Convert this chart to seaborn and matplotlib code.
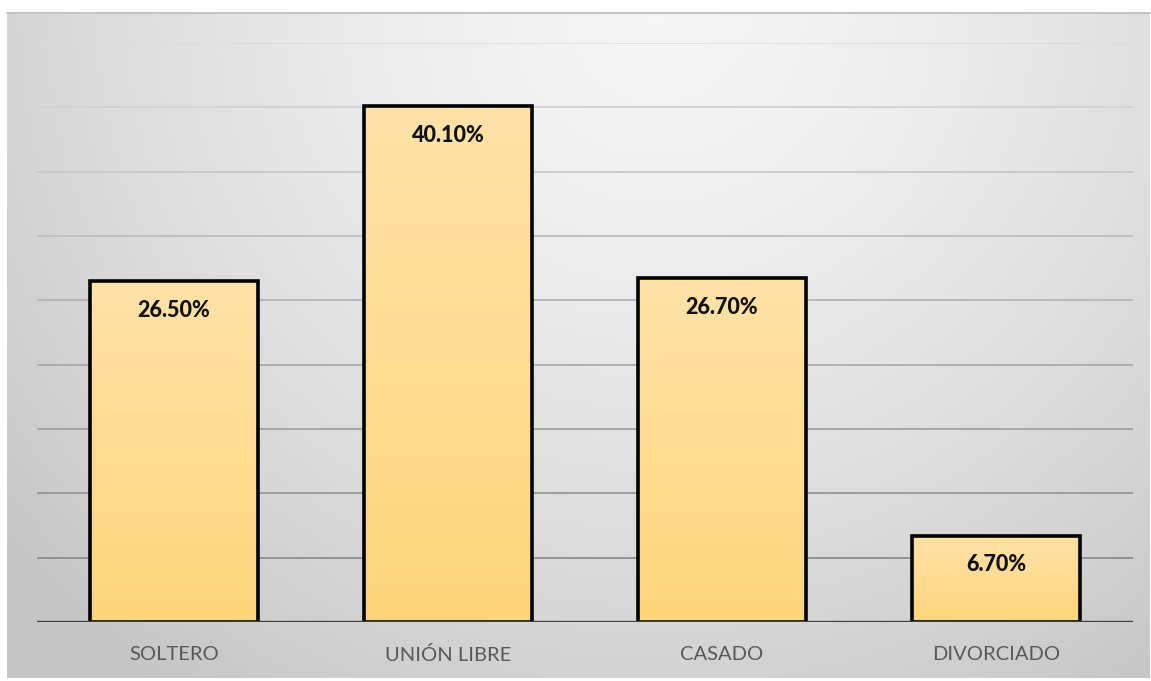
import numpy as np
import pandas as pd
import matplotlib
matplotlib.use("Agg")
import matplotlib.pyplot as plt
import seaborn as sns

categorias = ["SOLTERO", "UNIÓN LIBRE", "CASADO", "DIVORCIADO"]
porcentajes = [26.5, 40.1, 26.7, 6.7]
etiquetas = ["26.50%", "40.10%", "26.70%", "6.70%"]

df = pd.DataFrame({"estado": categorias, "pct": porcentajes})

sns.set_theme(style="white")
plt.rcParams["font.family"] = ["Lato", "DejaVu Sans"]

W, H = 1151, 681
fig = plt.figure(figsize=(W / 100, H / 100), dpi=100)
fig.patch.set_facecolor("white")

# fondo con degradado radial (panel gris)
bg = fig.add_axes([7 / W, (H - 678) / H, (1150 - 7) / W, (678 - 13) / H])
yy, xx = np.mgrid[0:1:300j, 0:1:600j]
d = np.sqrt(((xx - 0.57) / 0.75) ** 2 + ((yy - 0.0) / 1.25) ** 2)
d = np.clip(d, 0, 1)
val = 0.965 - 0.19 * d ** 1.4
bg.imshow(np.dstack([val, val, val]), aspect="auto", extent=[0, 1, 1, 0])
bg.set_axis_off()
# borde superior del panel
fig.add_artist(plt.Line2D([7 / W, 1150 / W], [(H - 13) / H] * 2, color="#c4c4c4", lw=1.5))

ax = fig.add_axes([37 / W, (H - 622) / H, (1133 - 37) / W, (622 - 43) / H])
ax.set_facecolor("none")

sns.barplot(data=df, x="estado", y="pct", width=0.61, color="#FED98A",
            edgecolor="black", linewidth=2.6, ax=ax, zorder=3)

# degradado dentro de las barras
grad = np.linspace(0, 1, 256).reshape(-1, 1)
top_c = np.array([255, 226, 168]) / 255
bot_c = np.array([253, 213, 123]) / 255
img = top_c * (1 - grad[..., None]) + bot_c * grad[..., None]
for p in ax.patches:
    x0, y0, w, h = p.get_x(), p.get_y(), p.get_width(), p.get_height()
    im = ax.imshow(img, extent=[x0, x0 + w, y0, y0 + h], aspect="auto",
                   origin="upper", zorder=2.5)
    im.set_clip_path(p)
    p.set_facecolor("none")
ax.set_aspect("auto")
ax.set_xlim(-0.5, 3.5)
ax.set_ylim(0, 45)
ax.set_yticks(np.arange(0, 46, 5))
ax.set_yticklabels([])

# líneas de cuadrícula
for v in np.arange(5, 46, 5):
    t = v / 45
    c = 0.52 + 0.34 * t
    ax.axhline(v, color=(c, c, c), lw=1.3, zorder=1)
ax.axhline(0, color="#3f3f3f", lw=2.4, zorder=4)

for i, v in enumerate(porcentajes):
    ax.annotate(etiquetas[i], xy=(i, v), xytext=(0, -21), textcoords="offset points",
                ha="center", va="center", fontsize=15.5, fontweight="black",
                color="#111111", zorder=5)

ax.tick_params(axis="x", length=0, pad=17, labelsize=14.5, labelcolor="#595959")
ax.tick_params(axis="y", length=0)
ax.set_xlabel("")
ax.set_ylabel("")
for s in ax.spines.values():
    s.set_visible(False)

fig.savefig("out.png", dpi=100)
